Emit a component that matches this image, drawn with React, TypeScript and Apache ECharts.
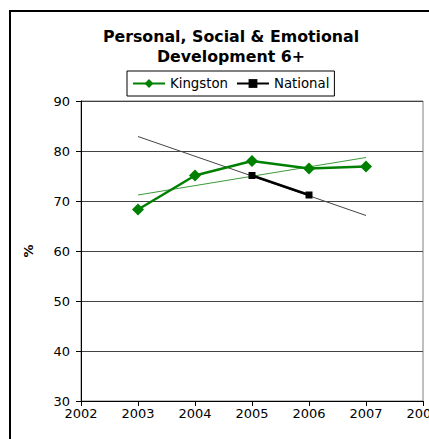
import React, { useEffect, useRef } from "react";
import * as echarts from "echarts";

const titleText = "Personal, Social & Emotional\nDevelopment 6+";
const kingstonYears = [2003, 2004, 2005, 2006, 2007];
const kingstonValues = [68.3, 75.1, 78.0, 76.5, 76.9];
const nationalYears = [2005, 2006];
const nationalValues = [75.1, 71.2];
const trendYears = [2003, 2007];
const kingstonTrend = [71.2, 78.7];
const nationalTrend = [82.9, 67.1];
const yTicks = { min: 30, max: 90, interval: 10 };
const xTicks = { min: 2002, max: 2008, interval: 1 };

const FONT = "DejaVu Sans, Arial, sans-serif";

export default function App() {
  const ref = useRef<HTMLDivElement>(null);
  useEffect(() => {
    document.body.style.margin = "0";
    const chart = echarts.init(ref.current!, null, { renderer: "svg" });
    const pair = (xs: number[], ys: number[]) => xs.map((x, i) => [x, ys[i]]);
    chart.setOption({
      animation: false,
      backgroundColor: "#fff",
      textStyle: { fontFamily: FONT },
      title: {
        text: titleText,
        left: 226,
        top: 21,
        textAlign: "center",
        textStyle: { fontFamily: FONT, fontSize: 15.8, fontWeight: "bold", color: "#000", lineHeight: 20 },
      },
      legend: {
        data: ["Kingston", "National"],
        left: 127,
        top: 71,
        padding: [6, 5],
        itemWidth: 32,
        itemHeight: 11,
        itemGap: 8,
        borderColor: "#000",
        borderWidth: 1,
        borderRadius: 0,
        textStyle: { fontFamily: FONT, fontSize: 13.3, color: "#000" },
      },
      graphic: [
        {
          type: "polyline",
          shape: { points: [[10, 439], [10, 11], [429, 11]] },
          style: { fill: "none", stroke: "#000", lineWidth: 2 },
          silent: true,
          z: 100,
        },
      ],
      grid: {
        left: 81,
        top: 101,
        width: 342,
        height: 300,
        show: true,
        borderColor: "#808080",
        borderWidth: 1,
        containLabel: false,
        outerBoundsMode: "none",
      },
      xAxis: {
        type: "value",
        min: xTicks.min,
        max: xTicks.max,
        interval: xTicks.interval,
        axisLine: { show: true, lineStyle: { color: "#000", width: 1 } },
        axisTick: { show: true, inside: false, length: 5, lineStyle: { color: "#000" } },
        axisLabel: {
          fontFamily: FONT,
          fontSize: 13,
          color: "#000",
          margin: 6,
          showMaxLabel: true,
          showMinLabel: true,
          hideOverlap: false,
          formatter: (v: number) => String(v),
        },
        splitLine: { show: false },
      },
      yAxis: {
        type: "value",
        min: yTicks.min,
        max: yTicks.max,
        interval: yTicks.interval,
        name: "%",
        nameLocation: "middle",
        nameGap: 46,
        nameRotate: 90,
        nameTextStyle: { fontFamily: FONT, fontSize: 13, fontWeight: "bold", color: "#000" },
        axisLine: { show: true, lineStyle: { color: "#000", width: 1 } },
        axisTick: { show: true, inside: false, length: 5, lineStyle: { color: "#000" } },
        axisLabel: { fontFamily: FONT, fontSize: 13, color: "#000", margin: 11 },
        splitLine: { show: true, lineStyle: { color: "#444", width: 1 } },
      },
      series: [
        {
          name: "Kingston trend",
          type: "line",
          data: pair(trendYears, kingstonTrend),
          symbol: "none",
          lineStyle: { color: "#3a9a3a", width: 1 },
          itemStyle: { color: "#3a9a3a" },
          z: 2,
        },
        {
          name: "National trend",
          type: "line",
          data: pair(trendYears, nationalTrend),
          symbol: "none",
          lineStyle: { color: "#444", width: 1 },
          itemStyle: { color: "#444" },
          z: 2,
        },
        {
          name: "Kingston",
          type: "line",
          data: pair(kingstonYears, kingstonValues),
          symbol: "diamond",
          symbolSize: 12,
          lineStyle: { color: "#008000", width: 2.5 },
          itemStyle: { color: "#008000" },
          z: 4,
        },
        {
          name: "National",
          type: "line",
          data: pair(nationalYears, nationalValues),
          symbol: "rect",
          symbolSize: 7,
          lineStyle: { color: "#000", width: 2.5 },
          itemStyle: { color: "#000" },
          z: 3,
        },
      ],
    });
    return () => chart.dispose();
  }, []);
  return <div ref={ref} style={{ width: 429, height: 439, position: "absolute", left: 0, top: 0 }} />;
}
